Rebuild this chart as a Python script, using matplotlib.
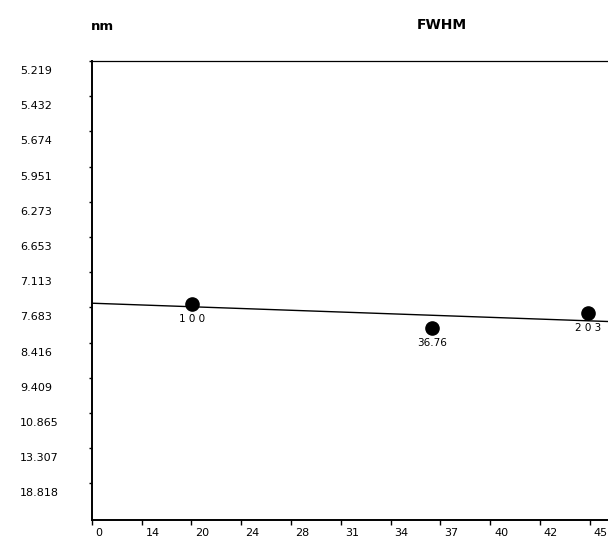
"""FWHM peak plot: sin^2(theta) on x, 1/d^2 on y, with d-spacing tick labels."""

import matplotlib

matplotlib.use("Agg")
import matplotlib.pyplot as plt
import matplotlib.transforms as mtransforms
import numpy as np

# x tick labels (2-theta, degrees) at equal steps of sin^2(theta)
x_tick_labels = ["0", "14", "20", "24", "28", "31", "34", "37", "40", "42", "45"]
# y tick labels (d-spacing, nm) at equal steps of 1/d^2
d_tick_labels = ["5.219", "5.432", "5.674", "5.951", "6.273", "6.653", "7.113",
                 "7.683", "8.416", "9.409", "10.865", "13.307", "18.818"]

# peaks
peak_2theta = [19.81, 36.87, 44.93]
peak_d = [7.620, 8.090, 7.778]
peak_labels = ["1 0 0", "36.76", "2 0 3"]

# trend line ends
fit_2theta = [0.0, 47.0]
fit_d = [7.607, 7.970]


def to_s(two_theta):
    """2-theta in degrees -> sin^2(theta)."""
    return np.sin(np.radians(np.asarray(two_theta, dtype=float) / 2.0)) ** 2


def to_v(d):
    """d-spacing -> 1/d^2."""
    return 1.0 / np.asarray(d, dtype=float) ** 2


def plot_fwhm():
    fig = plt.figure(figsize=(6.08, 5.42), dpi=100)
    plt.rcParams["font.family"] = "DejaVu Sans"

    # axes run past the right edge of the picture, as in the reference
    left, right = 91.7 / 608, 640 / 608
    bottom, top = (542 - 520) / 542, (542 - 61) / 542
    ax = fig.add_axes([left, bottom, right - left, top - bottom])

    s_step = to_s(45.0) / 10.0
    x_ticks = np.arange(len(x_tick_labels)) * s_step
    v_unit = to_v(18.818)
    y_ticks = to_v([float(t) for t in d_tick_labels])

    ax.set_xlim(0, 11.01 * s_step)
    ax.set_ylim(-0.04 * v_unit, 12.91 * v_unit)

    # trend line and peaks
    ax.plot(to_s(fit_2theta), to_v(fit_d), color="black", linewidth=1.0,
            clip_on=True)
    ax.plot(to_s(peak_2theta), to_v(peak_d), "o", color="black",
            markersize=9.5, clip_on=False)

    lab_tr = mtransforms.offset_copy(ax.transData, fig=fig, x=0, y=-15,
                                     units="dots")
    for tt, d, lab in zip(peak_2theta, peak_d, peak_labels):
        ax.text(to_s(tt), to_v(d), lab, transform=lab_tr, ha="center",
                va="center", fontsize=7.5, clip_on=False)

    # ticks
    ax.set_xticks(x_ticks)
    ax.set_yticks(y_ticks)
    ax.tick_params(axis="x", direction="out", length=3.5, width=1.0,
                   labelbottom=False)
    ax.tick_params(axis="y", direction="out", length=2.5, width=1.0,
                   labelleft=False)

    # x tick labels sit just right of each tick
    x_lab_tr = mtransforms.blended_transform_factory(ax.transData, ax.transAxes)
    x_lab_tr = x_lab_tr + mtransforms.ScaledTranslation(4 / 100, -13 / 100,
                                                        fig.dpi_scale_trans)
    for x, lab in zip(x_ticks, x_tick_labels):
        ax.text(x, 0, lab, transform=x_lab_tr, ha="left", va="center",
                fontsize=8, clip_on=False)

    # y tick labels, left aligned, a little below each tick
    y_lab_tr = mtransforms.blended_transform_factory(fig.transFigure, ax.transData)
    y_lab_tr = y_lab_tr + mtransforms.ScaledTranslation(0, -10 / 100,
                                                        fig.dpi_scale_trans)
    for y, lab in zip(y_ticks, d_tick_labels):
        ax.text(20 / 608, y, lab, transform=y_lab_tr, ha="left", va="center",
                fontsize=8, clip_on=False)

    # spines
    for side in ("left", "bottom"):
        ax.spines[side].set_linewidth(1.4)
    ax.spines["top"].set_linewidth(0.9)
    ax.spines["right"].set_visible(False)

    fig.text(91 / 608, 1 - 26 / 542, "nm", fontsize=9.5, fontweight="bold",
             ha="left", va="center")
    fig.text(442 / 608, 1 - 25 / 542, "FWHM", fontsize=10, fontweight="bold",
             ha="center", va="center")

    fig.savefig("out.png", dpi=100)


if __name__ == "__main__":
    plot_fwhm()
